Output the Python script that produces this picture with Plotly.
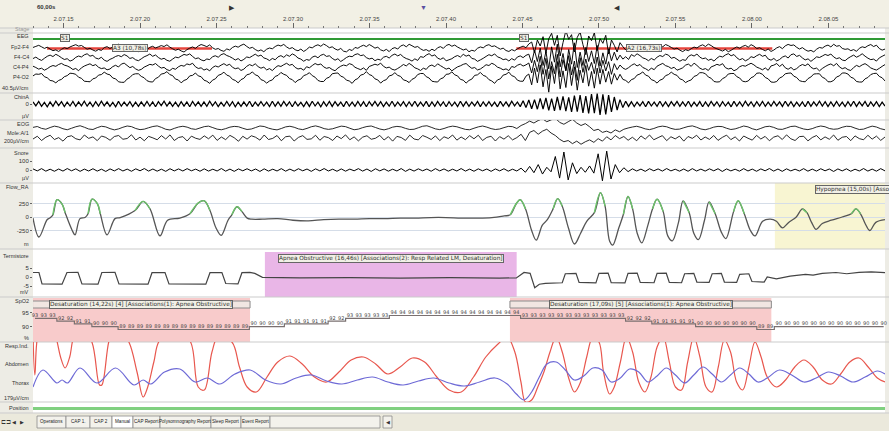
import numpy as np
import plotly.graph_objects as go

# ---------------------------------------------------------------- time base
T_END = 55.7  # seconds visible in the page
tick_times = [2, 7, 12, 17, 22, 27, 32, 37, 42, 47, 52]
tick_labels = ["2.07.15", "2.07.20", "2.07.25", "2.07.30", "2.07.35", "2.07.40",
               "2.07.45", "2.07.50", "2.07.55", "2.08.00", "2.08.05"]

# ---------------------------------------------------------------- EEG (uV)
fp2_f4 = [4, 12, 20, 9, -3, 6, -8, -20, -14, -26, -10, 2, -5, 8, 17, 25, 14, 19, 5, -9,
          -2, -15, -24, -11, -18, 3, 10, -4, 7, 21, 28, 16, 22, 6, -7, 1, -12, -27, -19, -8,
          -16, 5, 13, 0, 9, 18, 11, 24, 7, -6, -17, -9, -22, -30, -13, -1, 8, -3, 15, 26,
          19, 10, 23, 2, -10, -4, -18, -25, -7, -15, 4, 14, 6, 20, 29, 12, -2, 5, -11, -23,
          -14, -28, -9, 0, -6, 11, 22, 15, 27, 8, -5, 3, -13, -21, -8, -26, -12, 7, 1, 16,
          24, 13, 30, 18, 2, 9, -7, -16, -3, -24, -29, -11, -19, 4, -2, 12, 21, 10, 26, 14,
          -1, 6, -14, -22, -10, -27, -5, 3, -8, 15, 23, 9, 28, 17, 5, 11, -6, -18, -12, -25,
          -9, -20, 2, 10, -3, 19, 27, 13, 22, 7, -4, -15, -7, -28, -17, -23, -2, 8, 1, 18,
          25, 11, 16, 3, -9, -1, -19, -26, -12, -21, -6, 5, 14, 2, 30, 45, -35, 60, 15, 85,
          -40, 70, 110, 20, 95, -60, 40, 130, 65, 100, -30, 80, 120, 25, -50, 90, 55, 115, -20, 70,
          35, 95, -45, 60, 20, -30, 40, 10, -15, 8, 22, 12, -7, -19, -11, -24, -4, 6, -2, 13,
          21, 9, 26, 17, 4, -8, -1, -16, -27, -13, -20, -5, 7, 0, 15, 24, 11, 29, 18, 3,
          -6, -14, -23, -10, -28, -17, -3, 8, -2, 12, 20, 6, 25, 14, -4, 2, -11, -21, -7, -26,
          -15, 1, 10, -5, 16, 27, 19, 23, 5, -8, 3, -13, -24, -18, -29, -9, 4, -1, 14, 22,
          8, 28, 13, 18, -3, -10, -6, -20, -12, -25, -2, 9, 3, 17, 26, 11, 21, -4, -16, -8]
f4_c4 = [-8, 3, -12, -22, -6, 9, 18, 7, 24, 13, -2, -15, -9, -27, -18, 1, 11, 4, 20, 28,
         10, 16, -4, -11, 2, -20, -29, -14, -5, 8, 15, 6, 22, 12, -7, -1, -17, -24, -10, 5,
         14, 26, 9, 19, 0, -13, -6, -21, -28, -12, 3, -2, 11, 23, 17, 27, 8, -9, -3, -18,
         -25, -11, -16, 6, 13, 2, 21, 29, 15, 7, -5, -19, -8, -26, -14, 4, -1, 12, 25, 10,
         18, -3, -10, -23, -7, -17, 5, 14, 1, 20, 9, 27, 16, -4, -12, -28, -15, -21, 3, 11,
         -2, 17, 24, 8, 13, -6, -20, -9, -30, -16, 0, 10, 6, 22, 28, 14, 19, -1, -11, -5,
         -24, -13, -19, 2, 9, -4, 16, 26, 12, 23, 4, -8, -15, -27, -10, -22, 7, 1, 18, 29,
         11, 20, -5, -14, -2, -25, -17, -9, 6, 15, 3, 24, 10, 19, -7, -12, -29, -18, -6, 8,
         21, 13, 27, 5, -3, -16, -11, -26, -8, -20, 4, 12, -1, 16, 25, -40, 55, -30, 70, -60,
         45, -85, 80, -35, 100, -70, 30, -95, 60, -50, 110, -75, 40, -60, 75, -30, 50, -45, 90, -65,
         35, -50, 65, -25, 40, -20, 18, -12, 6, -15, 22, 9, 28, 14, -3, -10, -24, -7, -19, 2,
         15, 7, 25, 18, -6, 1, -13, -28, -16, -22, 8, 20, 11, 26, 3, -9, -4, -21, -12, -27,
         -5, 10, 4, 19, 29, 13, 22, -2, -17, -8, -25, -14, 6, -1, 14, 24, 9, 17, -11, -20,
         -7, -26, -15, 3, 12, -4, 21, 27, 8, 16, -3, -18, -10, -29, -13, 5, 0, 11, 23, 15,
         26, 4, -9, -2, -19, -24, -6, 7, 18, 2, 13, 28, 10, -5, -16, -12, -27, -3, 9, 20]
c4_p4 = [6, -4, -16, -9, -24, -13, 2, 11, 5, 19, 27, 14, 8, -3, -19, -11, -28, -6, 7, 16,
         24, 10, 18, -2, -12, -7, -21, -15, 3, 13, 0, 22, 29, 12, -5, 4, -14, -25, -18, -1,
         9, 20, 15, 26, 7, -8, -3, -20, -27, -10, -17, 1, 12, 6, 23, 17, 28, 2, -11, -6,
         -23, -14, -29, -4, 8, 0, 14, 25, 11, 21, -2, -13, -7, -26, -16, 5, 18, 9, 24, 3,
         -9, -1, -22, -12, -27, -5, 10, 4, 17, 28, 13, 20, -3, -15, -10, -24, 2, -6, 11, 26,
         16, 23, 1, -10, -4, -19, -28, -8, 6, 15, 9, 25, 18, -2, -12, -20, -7, -25, 4, 12,
         21, 14, 29, 5, -7, -1, -17, -23, -11, 3, 19, 8, 27, 13, -6, -14, -26, -9, -18, 7,
         15, 2, 24, 10, -3, -16, -8, -29, -13, 1, 9, 20, 26, 6, -10, -4, -22, -15, 0, 17,
         11, 28, 18, -1, -9, -21, -14, -27, 4, -3, 13, 22, 7, 16, 30, -45, 50, -35, 80, -55,
         65, -90, 40, -50, 95, -75, 55, -30, 85, -60, 45, -100, 70, -40, 60, -25, 35, -50, 75, -45,
         50, -30, 40, -55, 25, -20, 15, -8, -18, -5, 12, 24, 8, 19, -4, -13, -27, -9, -20, 6,
         17, 27, 10, 3, -11, -2, -24, -16, -6, 14, 22, 5, 29, 12, -8, -19, -12, -26, 1, 9,
         20, 13, 25, -5, -15, -9, -28, -18, 2, 11, 6, 18, 28, 16, -1, -10, -21, -7, -25, 8,
         14, 26, 4, 21, -6, -17, -3, -22, -12, 7, 19, 10, 24, -2, -14, -8, -29, -11, 3, 15,
         23, 9, 27, 1, -13, -5, -20, -26, -4, 12, 2, 16, 25, 11, -7, -16, -23, -10, 5, 18]
p4_o2 = [12, 26, 24, 30, 6, -2, -22, -26, -40, -22, -14, 6, 14, 32, 30, 24, 2, -6, -28, -30,
         -32, -10, -4, 18, 22, 40, 26, 20, -4, -10, -32, -36, -36, -12, 0, 22, 28, 28, 8, -2,
         -24, -32, -34, -8, 2, 26, 30, 44, 22, 14, -12, -18, -40, -22, -14, 12, 16, 34, 12, 6,
         -20, -28, -44, -20, -10, 16, 24, 40, 18, 10, -14, -22, -40, -16, -6, 20, 26, 42, 20, 12,
         -16, -24, -42, -26, -18, 8, 16, 38, 24, 16, -8, -16, -38, -20, -12, 14, 22, 36, 14, 2,
         -22, -30, -30, -6, 2, 28, 32, 34, 10, 2, -20, -26, -44, -18, -8, 18, 24, 44, 22, 14,
         -10, -18, -42, -24, -16, 12, 18, 36, 16, 8, -18, -24, -38, -14, -4, 22, 30, 30, 6, -4,
         -28, -32, -34, -10, -2, 24, 26, 42, 20, 12, -14, -20, -42, -22, -12, 16, 20, 38, 16, 8,
         -16, -26, -44, -18, -10, 18, 24, 40, 14, 6, -20, -28, -28, 10, 26, -55, 70, -40, 95, -70,
         60, -110, 85, -45, 120, -85, 50, -75, 105, -60, 80, -95, 55, -40, 90, -65, 45, -80, 70, -50,
         60, -35, 45, -50, 30, -20, 24, -14, -22, -40, -16, -8, 18, 26, 42, 18, 10, -16, -24, -42,
         -20, -12, 14, 22, 40, 24, 16, -10, -18, -38, -26, -18, 8, 16, 36, 36, 28, 4, -6, -30,
         -34, -32, -8, 2, 26, 30, 30, 6, -4, -28, -32, -26, -2, 8, 32, 34, 24, 0, -10, -34,
         -36, -30, -4, 6, 28, 32, 34, 10, 0, -24, -30, -32, -8, 4, 26, 28, 28, 2, -8, -32,
         -32, -22, 4, 12, 34, 34, 26, 2, -6, -30, -34, -34, -10, 0, 22, 30, 32, 8, -2, -26]

# ---------------------------------------------------------------- EMG / EOG / snore (uV)
chin = [11, -9, 13, -12, 8, -14, 10, -11, 14, -8, 12, -13, 9, -10, 13, -12, 11, -9, 14, -11,
        9, -13, 12, -10, 14, -9, 11, -12, 8, -14, 13, -11, 10, -9, 12, -13, 9, -12, 11, -10,
        13, -11, 10, -14, 12, -8, 14, -10, 11, -12, 9, -13, 12, -11, 10, -14, 13, -9, 11, -12,
        10, -12, 14, -9, 11, -13, 8, -11, 13, -10, 12, -14, 9, -12, 11, -10, 14, -13, 10, -9,
        12, -10, 9, -13, 14, -11, 10, -12, 13, -9, 11, -14, 12, -10, 8, -13, 11, -12, 14, -10,
        9, -14, 11, -10, 13, -12, 12, -9, 10, -13, 14, -11, 9, -12, 13, -10, 11, -14, 12, -9,
        13, -10, 12, -13, 9, -11, 14, -12, 10, -9, 12, -13, 11, -10, 14, -12, 9, -11, 13, -14,
        10, -12, 13, -9, 11, -14, 12, -10, 9, -13, 14, -11, 12, -12, 10, -9, 13, -13, 11, -10,
        12, -11, 9, -14, 13, -10, 11, -12, 14, -9, 10, -13, 16, -18, 20, -24, 22, -26, 28, -25,
        30, -32, 27, -34, 35, -30, 38, -36, 33, -40, 42, -38, 45, -44, 40, -47, 50, -46, 52, -55,
        48, -52, 44, -40, 35, -30, 22, -18, 14, -12, 11, -13, 10, -9, 12, -14, 13, -10, 9, -12,
        14, -11, 10, -13, 12, -9, 13, -12, 11, -10, 14, -13, 9, -11, 12, -14, 10, -12, 13, -9,
        11, -13, 12, -10, 9, -14, 13, -11, 10, -12, 14, -9, 11, -13, 12, -10, 13, -12, 9, -11,
        13, -9, 11, -12, 14, -10, 12, -13, 9, -11, 10, -14, 13, -12, 11, -9, 14, -10, 12, -13,
        10, -12, 13, -11, 9, -13, 12, -10, 14, -12, 11, -9, 13, -14, 10, -11, 12, -13, 9, -10]
eog = [5, 12, -3, -10, 4, 15, 8, -6, -14, -2, 10, 18, 6, -8, -12, 3, 14, 9, -5, -15,
       -7, 6, 16, 11, -4, -13, -9, 2, 12, 17, 5, -10, -16, -3, 8, 14, 7, -6, -11, 0,
       11, 15, 3, -9, -14, -5, 7, 13, 10, -2, -12, -8, 4, 16, 12, -1, -10, -15, -4, 9,
       14, 6, -7, -13, -3, 10, 17, 8, -5, -11, -6, 5, 15, 11, -2, -14, -9, 3, 12, 16,
       4, -8, -15, -6, 7, 13, 9, -3, -12, -10, 2, 14, 18, 6, -7, -13, -4, 8, 15, 10,
       -1, -11, -14, -2, 9, 16, 7, -5, -12, -8, 3, 13, 11, -4, 20, 35, 55, 40, 60, 75,
       50, 65, 80, 45, 30, 50, 70, 40, 20, 35, 10, -20, -10, -35, -25, -40, -15, -30, -10, 0,
       8, 14, 5, -7, -13, -4, 9, 15, 10, -3, -11, -9, 2, 12, 17, 6, -8, -14, -5, 7,
       13, 11, -2, -12, -7, 4, 16, 9, -6, -15, -3, 10, 14, 5, -9, -11, 0, 12, 15, 3,
       -8, -13, -5, 8, 16, 10, -4, -10, -7, 6, 14, 12, -1, -12, -9, 4, 15, 8, -6, -14]
mole = [-8, 14, -20, 6, 22, -12, 3, -25, 10, 18, -6, -15, 24, -3, 9, -21, 16, 5, -18, 12,
        20, -10, -4, 26, -16, 7, -22, 13, 1, -14, 19, -8, 25, -20, 4, 11, -24, 15, -2, -11,
        17, -6, 23, -19, 8, -13, 21, 2, -26, 14, -9, 18, 6, -17, 24, -12, -3, 20, -22, 10,
        15, -24, 5, 19, -11, -7, 22, -18, 12, 3, -20, 16, -5, 25, -14, 9, -23, 7, 18, -10,
        -2, 21, -16, 11, -25, 13, 4, -19, 23, -8, -15, 20, 6, -12, 17, -21, 10, -4, 24, -17,
        8, -13, 19, -6, 22, -20, 5, 14, -24, 11, -9, 18, -15, 3, 30, -20, 45, 60, 30, 55,
        70, 40, 20, -10, -30, -20, -45, -25, -50, -30, -15, -35, -5, -25, 10, -15, 20, -5, 12, -18,
        6, -22, 17, -9, 24, -14, 3, 19, -21, 10, -7, 15, -25, 12, -3, 22, -16, 8, -11, 20,
        -19, 5, 23, -13, 9, -24, 16, -2, -17, 21, -8, 13, -22, 7, 18, -12, 25, -6, -20, 11,
        14, -23, 4, 20, -15, 9, -10, 24, -18, 6, 12, -21, 17, -5, -14, 22, -9, 15, -19, 8]
snore = [12, -10, 15, -13, 9, -14, 11, -12, 16, -9, 13, -15, 10, -11, 14, -12, 9, -16, 12, -10,
         15, -11, 10, -14, 13, -9, 16, -12, 11, -13, 9, -15, 14, -10, 12, -11, 15, -9, 10, -14,
         13, -12, 9, -11, 16, -13, 10, -15, 12, -9, 14, -10, 11, -16, 13, -12, 9, -11, 15, -13,
         10, -12, 14, -9, 11, -15, 13, -10, 16, -11, 9, -14, 12, -13, 10, -9, 15, -12, 11, -16,
         14, -10, 12, -13, 9, -11, 16, -15, 10, -12, 13, -9, 11, -14, 15, -10, 12, -13, 9, -11,
         16, -12, 10, -14, 13, -9, 11, -15, 12, -10, 14, -13, 9, -11, 20, -25, 40, -30, 60, -45,
         30, -20, 150, -90, 200, -110, 80, -40, 30, -25, 45, -35, 180, -120, 210, -100, 60, -30, 25, -18,
         13, -11, 10, -15, 14, -9, 12, -12, 16, -10, 9, -13, 11, -14, 15, -11, 10, -12, 13, -9,
         14, -16, 12, -10, 9, -13, 15, -11, 10, -14, 12, -9, 16, -12, 11, -15, 13, -10, 9, -11,
         15, -13, 10, -12, 14, -9, 11, -16, 12, -10, 13, -14, 9, -11, 16, -12, 10, -13, 15, -10]

# ---------------------------------------------------------------- airflow
flow_t = [0.0, 0.39, 0.92, 1.1, 1.3, 1.57, 1.9, 2.1, 2.55, 2.75,
          3.07, 3.4, 3.6, 3.86, 4.2, 4.4, 4.84, 5.36, 5.7, 6.67,
          7.2, 7.65, 8.3, 8.8, 9.6, 10.26, 10.8, 11.2, 11.57, 11.96,
          12.3, 12.75, 13.0, 13.33, 13.66, 14.0, 14.3, 15, 16, 17,
          18, 19, 20, 21, 22, 23, 24, 25, 26, 27,
          28, 29, 30, 30.8, 31.2, 31.6, 31.85, 32.2, 32.6, 32.9,
          33.3, 33.6, 34.0, 34.3, 34.6, 35.0, 35.4, 35.8, 36.2, 36.7,
          37.1, 37.4, 37.7, 37.9, 38.3, 38.6, 38.9, 39.2, 39.5, 39.8,
          40.2, 40.5, 40.8, 41.2, 41.5, 41.8, 42.2, 42.5, 42.9, 43.2,
          43.5, 43.9, 44.2, 44.6, 45.0, 45.3, 45.8, 46.1, 46.5, 46.9,
          47.2, 47.7, 48.2, 48.6, 49.0, 49.4, 49.9, 50.3, 50.6, 50.9,
          51.2, 51.6, 52.2, 52.9, 53.5, 53.8, 54.1, 54.4, 54.7, 55.1, 55.7]
flow_v = [-20, -370, -50, -20, 40, 320, 240, 80, -240, -330,
          -30, -10, 60, 330, 250, 60, -330, -30, -10, 120,
          290, 150, -350, -60, -20, 60, 260, 300, 120, -200,
          -340, -60, 40, 190, 100, -20, -40, -40, -30, -60,
          -70, -50, -40, -40, -30, -30, -20, -20, -10, -10,
          -20, -20, -10, 20, 40, 250, 320, 150, -250, -430,
          -150, -60, 150, 340, 200, -200, -500, -300, -80, 80,
          450, 200, -450, -520, -200, 50, 380, 150, -300, -480,
          -150, 150, 330, 100, -350, -440, -100, 300, 80, -300,
          -420, -60, 280, 60, -280, -400, 100, 300, 60, -250,
          -350, -80, -40, -80, -200, -100, 0, 150, 80, -100,
          -230, -120, -60, 0, 60, 150, 60, -120, -250, -100, -50]
INSP_LEVEL = 30  # flow above this is drawn as inspiration

# ---------------------------------------------------------------- thermistor (mV)
term_t = [0, 0.39, 0.59, 1.9, 2.22, 2.94, 3.2, 4.25, 4.5, 5.36,
          5.62, 7.52, 7.78, 8.63, 8.89, 11.3, 11.57, 12.35, 12.6, 13.4,
          13.66, 14.18, 14.5, 15.0, 17.45, 20.7, 24.0, 27.25, 30.5, 31.6,
          32.1, 32.5, 32.8, 33.1, 33.5, 34.6, 34.8, 35.5, 35.7, 36.8,
          37.0, 37.6, 37.8, 38.7, 38.9, 39.5, 39.7, 40.6, 40.8, 41.4,
          41.6, 42.4, 42.6, 43.2, 43.4, 44.2, 44.4, 45.0, 45.2, 46.0,
          46.2, 46.8, 47.0, 47.8, 48.0, 48.6, 49.5, 50.5, 51.0, 51.6,
          52.5, 53.2, 54.0, 54.8, 55.7]
term_v = [2.5, 2.5, -3.8, -4.0, 2.5, 2.6, -3.8, -4.0, 2.5, 2.6,
          -3.8, -4.0, 2.4, 2.5, -3.8, -4.0, 2.4, 2.5, -3.6, -3.8,
          2.4, 2.6, 2.0, -0.2, -0.5, -0.3, -0.6, -0.4, -0.6, -0.5,
          2.5, 2.0, -6.0, -4.0, -3.5, -3.2, 1.8, 2.0, -3.0, -3.3,
          2.0, 2.2, -3.2, -3.3, 2.0, 2.2, -3.0, -3.2, 2.0, 2.1,
          -3.0, -3.2, 1.8, 2.0, -2.8, -3.0, 1.8, 2.0, -2.8, -3.0,
          1.5, 1.8, -2.5, -2.8, 0.0, -1.0, 0.5, 1.5, 1.0, 2.0,
          2.5, 1.8, 2.6, 2.8, 2.4]

# ---------------------------------------------------------------- SpO2 (%)
SPO2_T0, SPO2_DT = 0.13, 0.572
spo2 = [93, 93, 93, 92, 92, 91, 91, 90, 90, 90,
        89, 89, 89, 89, 89, 89, 89, 89, 89, 89, 89, 89, 89, 89, 89,
        90, 90, 90, 90, 91, 91, 91, 91, 91, 92, 92, 93, 93, 93, 93, 93,
        94, 94, 94, 94, 94, 94, 94, 94, 94, 94, 94, 94, 94, 94, 94,
        93, 93, 93, 93, 93, 93, 93, 93, 93, 93, 93, 93,
        92, 92, 92, 91, 91, 91, 91, 91, 90, 90, 90, 90, 90, 90, 90, 89, 89,
        90, 90, 90, 90, 90, 90, 90, 90, 90, 90, 90, 90, 90]

# ---------------------------------------------------------------- respiratory effort
abd_t = [0.0, 0.12, 0.35, 1.0, 1.55, 1.8, 2.1, 2.4, 2.6, 3.0,
         3.85, 4.35, 4.5, 4.95, 5.3, 6.2, 6.8, 7.2, 7.5, 7.9,
         8.3, 9.5, 10.3, 10.8, 11.2, 11.7, 12.1, 13.0, 13.5, 14.0,
         14.6, 15.3, 16.0, 16.8, 17.6, 18.4, 19.2, 20.0, 20.8, 21.6,
         22.4, 23.2, 24.0, 24.8, 25.6, 26.4, 27.2, 28.0, 28.8, 29.6,
         30.4, 31.0, 31.5, 31.9, 32.2, 32.6, 33.0, 33.4, 33.8, 34.2,
         34.6, 35.0, 35.4, 35.8, 36.2, 36.6, 37.0, 37.3, 37.7, 38.0,
         38.4, 38.8, 39.2, 39.6, 40.0, 40.4, 40.8, 41.2, 41.6, 42.0,
         42.4, 42.8, 43.2, 43.6, 44.0, 44.4, 44.8, 45.2, 45.6, 46.0,
         46.4, 46.8, 47.2, 47.6, 48.0, 48.6, 49.2, 49.8, 50.4, 51.0,
         51.6, 52.2, 52.8, 53.4, 54.0, 54.6, 55.2, 55.7]
abd_v = [40, -3, 40, 60, 32, 15, 4, 15, 32, 50,
         30, -13, -13, 30, 45, 32, 0, -25, -15, 10,
         32, 40, 30, -15, -18, 20, 35, 30, 5, -15,
         -20, -5, 10, 16, 8, -5, -10, 0, 12, 15,
         8, -2, 5, 14, 10, -5, -18, -20, -5, 15,
         28, 35, 20, -10, -30, -28, -15, 0, 20, 35,
         20, -5, -20, -10, 15, 35, 30, 0, -22, -15,
         10, 35, 20, -10, -20, -5, 25, 35, 10, -15,
         -18, 10, 35, 15, -15, -20, 5, 32, 20, -10,
         -18, 5, 30, 15, -5, -15, -8, 5, 12, 5,
         -8, -12, -2, 10, 14, 5, -6, -10]
tho_t = [0, 0.65, 1.57, 1.9, 2.25, 3.07, 4.18, 5.4, 6.6, 7.2,
         7.7, 8.6, 9.6, 10.6, 11.4, 12.2, 13.2, 14.2, 15.2, 16.2,
         17.2, 18.2, 19.2, 20.2, 21.2, 22.2, 23.2, 24.2, 25.2, 26.2,
         27.2, 28.2, 29.2, 30.2, 31.0, 31.6, 32.1, 32.6, 33.1, 33.6,
         34.2, 34.8, 35.4, 36.0, 36.6, 37.2, 37.8, 38.4, 39.0, 39.6,
         40.2, 40.8, 41.4, 42.0, 42.6, 43.2, 43.8, 44.4, 45.0, 45.6,
         46.2, 46.8, 47.4, 48.0, 48.8, 49.6, 50.4, 51.2, 52.0, 52.8,
         53.6, 54.4, 55.2, 55.7]
tho_v = [-15, 2, -11, -8, -11, 4, -11, 4, -13, -8,
         -12, 0, 3, -10, -6, -12, -2, 2, -8, -12,
         -6, -3, -9, -12, -8, -5, -10, -13, -9, -6,
         -11, -14, -10, -6, -12, -22, -28, -20, -5, 8,
         10, 2, -8, -4, 4, 2, -10, -6, 3, 0,
         -10, -4, 4, -3, -11, -3, 5, -2, -10, -3,
         4, -2, -10, -6, 2, -3, -10, -6, 0, -4,
         -10, -5, 1, -2]

# ---------------------------------------------------------------- scored events
desat_start = [-0.03, 31.18]
desat_dur = [14.22, 17.09]
desat_nadir_count = [4, 5]
apnea_start, apnea_dur = [15.16], [16.46]
hypop_start, hypop_dur = [48.5], [15.00]
cap_start = [0.92, 31.6]
cap_dur = [10.78, 16.73]
cap_phase = ["A3", "A2"]
stage_t = [2.1, 32.1]
stage_label = ["S1", "S1"]
hypno_t = [0.0, T_END]
position_t = [0.0, T_END]
cursor_t = [13.0, 25.55, 38.2]
cursor_sym = ["▶", "▼", "◀"]
cursor_col = ["#333333", "#5a4fa0", "#333333"]
tabs = ["Operations", "CAP 1.", "CAP 2", "Manual", "CAP Report",
        "Polysomnography Report", "Sleep Report", "Event Report"]
tab_edges = [37, 66, 90, 112, 133, 160, 211, 241, 270]

# ================================================================= layout helpers
W, H = 889, 431
ML, MR, MT, MB = 33, 4, 28, 18
PY_T, PY_B = MT, H - MB
PX_L, PX_R = ML, W - MR
FONT = "Liberation Sans, Arial, sans-serif"
LABEL_FONT = "DejaVu Sans, Verdana, sans-serif"


def py(p):
    return (PY_B - p) / (PY_B - PY_T)


def pxp(p):
    return (p - PX_L) / (PX_R - PX_L)


panels = {"eeg": (33, 93), "chin": (93, 120), "eog": (120, 148), "snore": (148, 183),
          "flow": (183, 249), "term": (249, 297), "spo2": (297, 342),
          "resp": (342, 402), "pos": (402, 413)}


def vrange(panel, v1, p1, v2, p2):
    top, bot = panels[panel]
    k = (v2 - v1) / (p2 - p1)
    return [v1 + (bot - p1) * k, v1 + (top - p1) * k]


fig = go.Figure()
axes_layout = {}


def add_axis(panel, rng, tickvals=None, grid=False):
    n = len(axes_layout) + 1
    key = "yaxis" if n == 1 else f"yaxis{n}"
    top, bot = panels[panel]
    ax = dict(domain=[py(bot), py(top)], range=rng, anchor="x", showgrid=grid,
              gridcolor="#d5dde8", gridwidth=1, zeroline=False, showline=False,
              fixedrange=True)
    if tickvals:
        ax.update(tickmode="array", tickvals=tickvals, ticktext=[str(v) for v in tickvals],
                  ticks="outside", ticklen=2, tickcolor="#666", tickwidth=1,
                  tickfont=dict(family=FONT, size=6, color="#333"))
    else:
        ax.update(showticklabels=False, ticks="")
    axes_layout[key] = ax
    return "y" if n == 1 else f"y{n}"


def line(x, y, yref, color, width, shape="linear", **kw):
    fig.add_trace(go.Scatter(x=x, y=y, xaxis="x", yaxis=yref, mode="lines",
                             line=dict(color=color, width=width, shape=shape,
                                       simplify=False),
                             hoverinfo="skip", showlegend=False, **kw))


# stage / CAP sequence row
y_stage = add_axis("eeg", vrange("eeg", 0, 48.5, 1, 39))
line(hypno_t, [1, 1], y_stage, "#2f9a35", 2)
for s, d in zip(cap_start, cap_dur):
    line([s, s + d], [0, 0], y_stage, "#e6453d", 2.5)

# EEG derivations
for sig, c in [(fp2_f4, 48), (f4_c4, 57.5), (c4_p4, 67), (p4_o2, 77.5)]:
    yr = add_axis("eeg", vrange("eeg", 0, c, 30, c - 4))
    line(np.linspace(0, T_END, len(sig)), sig, yr, "#000000", 0.95)

yr = add_axis("chin", vrange("chin", 0, 104, 10, 102), [0])
line(np.linspace(0, T_END, len(chin)), chin, yr, "#000000", 1.25)

yr = add_axis("eog", vrange("eog", 0, 128, 8, 127))
line(np.linspace(0, T_END, len(eog)), eog, yr, "#111111", 0.9)
yr = add_axis("eog", vrange("eog", 0, 138, 8, 137))
line(np.linspace(0, T_END, len(mole)), mole, yr, "#111111", 0.9)

yr = add_axis("snore", vrange("snore", 0, 170, 100, 161), [0, 100])
line(np.linspace(0, T_END, len(snore)), snore, yr, "#000000", 1.0)

# airflow with inspiratory portions highlighted
yr = add_axis("flow", vrange("flow", 0, 217, 250, 203.5), [-250, 0, 250], grid=True)
fv = np.array(flow_v, dtype=float)
line(flow_t, flow_v, yr, "#555555", 1.3, "spline")
line(flow_t, np.where(fv > INSP_LEVEL, fv, np.nan), yr, "#6cc46a", 1.4, "spline")

yr = add_axis("term", vrange("term", 0, 277, 5, 268), [-5, 0, 5])
line(term_t, term_v, yr, "#444444", 1.2)

yr = add_axis("spo2", vrange("spo2", 94, 315.5, 89, 329.5), [90, 95])
spo2_t = SPO2_T0 + np.arange(len(spo2)) * SPO2_DT
fig.add_trace(go.Scatter(x=spo2_t, y=spo2, xaxis="x", yaxis=yr, mode="lines+text",
                         text=[str(v) for v in spo2], textposition="top center",
                         textfont=dict(family=LABEL_FONT, size=5, color="#444"),
                         line=dict(color="#7a7070", width=1.2, shape="hvh"),
                         hoverinfo="skip", showlegend=False, cliponaxis=False))

yr = add_axis("resp", vrange("resp", 0, 372, 10, 362))
line(abd_t, abd_v, yr, "#e8574e", 1.2, "spline")
line(tho_t, tho_v, yr, "#6e6ad6", 1.2, "spline")

yr = add_axis("pos", vrange("pos", 0, 408.5, 1, 404))
line(position_t, [0, 0], yr, "#80d080", 3)

# ================================================================= shapes
shapes = []
# plot area and header / footer bands
shapes.append(dict(type="rect", xref="paper", yref="paper", x0=0, x1=1, y0=0, y1=1,
                   fillcolor="white", line_width=0, layer="below"))
shapes.append(dict(type="rect", xref="paper", yref="paper", x0=pxp(0), x1=pxp(W),
                   y0=py(28), y1=py(0), fillcolor="#f2f0e5", line_width=0, layer="below"))
shapes.append(dict(type="rect", xref="paper", yref="paper", x0=pxp(0), x1=pxp(W),
                   y0=py(H), y1=py(413.5), fillcolor="#ebe9dc", line_width=0, layer="below"))


def band(panel_top, panel_bot, x0, x1, color):
    shapes.append(dict(type="rect", xref="x", yref="paper", x0=x0, x1=x1,
                       y0=py(panel_bot), y1=py(panel_top), fillcolor=color,
                       line_width=0, layer="below"))


for s, d in zip(hypop_start, hypop_dur):
    band(183, 249, s, s + d, "#f8f5d2")
for s, d in zip(apnea_start, apnea_dur):
    band(252, 297, s, s + d, "#e9b6e7")
for s, d in zip(desat_start, desat_dur):
    band(298, 342, s, s + d, "#f8cbcb")
    shapes.append(dict(type="rect", xref="x", yref="paper", x0=s, x1=s + d,
                       y0=py(308), y1=py(301), fillcolor="#f1e6e2",
                       line=dict(color="#8c8c8c", width=1), layer="below"))

for p in [28, 33, 93, 120, 148, 183, 249, 297, 342, 402, 413]:
    shapes.append(dict(type="line", xref="paper", yref="paper", x0=pxp(0), x1=pxp(W),
                       y0=py(p), y1=py(p), line=dict(color="#cbcbcb", width=1),
                       layer="below"))

# bottom tab strip
for i, name in enumerate(tabs):
    shapes.append(dict(type="rect", xref="paper", yref="paper",
                       x0=pxp(tab_edges[i]), x1=pxp(tab_edges[i + 1]), y0=py(428), y1=py(416),
                       fillcolor="white" if name == "Manual" else "#f3f2ec",
                       line=dict(color="#8a8a8a", width=0.8), layer="above"))
shapes.append(dict(type="rect", xref="paper", yref="paper", x0=pxp(tab_edges[-1]),
                   x1=pxp(380), y0=py(428), y1=py(416), fillcolor="#f3f2ec",
                   line=dict(color="#8a8a8a", width=0.8), layer="above"))
shapes.append(dict(type="rect", xref="paper", yref="paper", x0=pxp(383), x1=pxp(392),
                   y0=py(428), y1=py(416), fillcolor="#f3f2ec",
                   line=dict(color="#8a8a8a", width=0.8), layer="above"))

# ================================================================= annotations
ann = []


def text(x, y, s, size=6, color="#333", xanchor="center", bold=False, box=False,
         family=FONT):
    a = dict(x=x, y=y, xref="paper", yref="paper", text=f"<b>{s}</b>" if bold else s,
             showarrow=False, xanchor=xanchor, yanchor="middle",
             font=dict(family=family, size=size, color=color))
    if box:
        a.update(bgcolor="#f1f0e6", bordercolor="#666", borderwidth=1, borderpad=0)
    ann.append(a)


channel_labels = [("Stage", 29.5), ("EEG", 36), ("Fp2-F4", 47), ("F4-C4", 57), ("C4-P4", 67),
                  ("P4-O2", 77), ("40.5µV/cm", 88), ("ChinA", 97), ("µV", 116), ("EOG", 124),
                  ("Mole:A/1", 133), ("200µV/cm", 141), ("Snore", 153), ("µV", 178),
                  ("Flow_RA", 187), ("m", 244), ("Termistore", 256), ("mV", 292),
                  ("SpO2", 301), ("%", 338), ("Resp.Ind.", 346), ("Abdomen", 364),
                  ("Thorax", 383), ("179µV/cm", 398), ("Position", 408)]
for s, p in channel_labels:
    text(pxp(31), py(p), s, size=5.5, color="#999" if s == "Stage" else "#333",
         xanchor="right")

text(pxp(35), py(7), "60,00s", size=6, xanchor="left", bold=True)
for t, s, c in zip(cursor_t, cursor_sym, cursor_col):
    text(t / T_END, py(7), s, size=7, color=c)


def dur(d):
    return f"{d:.2f}".replace(".", ",")


for t, s in zip(stage_t, stage_label):
    text(t / T_END, py(38.5), s, size=5.8, box=True, family=LABEL_FONT)
for s, d, ph in zip(cap_start, cap_dur, cap_phase):
    text((s + d / 2) / T_END, py(48.5), f"{ph} ({dur(d)}s)", size=5.8, box=True,
         family=LABEL_FONT)
for s, d, n in zip(desat_start, desat_dur, desat_nadir_count):
    text((s + d / 2) / T_END, py(304.5),
         f"Desaturation ({dur(d)}s) [{n}] [Associations(1): Apnea Obstructive]",
         size=5.8, box=True, family=LABEL_FONT)
for s, d in zip(apnea_start, apnea_dur):
    text((s + d / 2) / T_END, py(258.5),
         f"Apnea Obstructive ({dur(d)}s) [Associations(2): Resp Related LM, Desaturation]",
         size=5.8, box=True, family=LABEL_FONT)
for s, d in zip(hypop_start, hypop_dur):
    text((s + d / 2) / T_END, py(189),
         f"Hypopnea ({dur(d)}s) [Associations(1): Desaturation]", size=5.8, box=True,
         family=LABEL_FONT)

for i, name in enumerate(tabs):
    text(pxp((tab_edges[i] + tab_edges[i + 1]) / 2), py(422), name, size=4.6, color="#222")
text(pxp(6), py(422), "⊏⊐", size=6, color="#333")
text(pxp(14), py(422), "◀", size=5, color="#333")
text(pxp(22), py(422), "▶", size=5, color="#333")
text(pxp(387.5), py(422), "◀", size=5, color="#333")

# ================================================================= figure
fig.update_layout(
    width=W, height=H, margin=dict(l=ML, r=MR, t=MT, b=MB),
    paper_bgcolor="#edece5", plot_bgcolor="rgba(0,0,0,0)",
    showlegend=False, shapes=shapes, annotations=ann,
    xaxis=dict(range=[0, T_END], side="top", anchor="free", position=1,
               tickmode="array", tickvals=tick_times, ticktext=tick_labels,
               ticks="outside", ticklen=5, tickcolor="#666", tickwidth=1,
               tickfont=dict(family=FONT, size=6, color="#444"),
               minor=dict(dtick=1, tick0=0, ticks="outside", ticklen=2.5,
                          tickcolor="#777", showgrid=False),
               showgrid=False, zeroline=False, showline=False, fixedrange=True),
    **axes_layout,
)

fig.write_html("out.html")
